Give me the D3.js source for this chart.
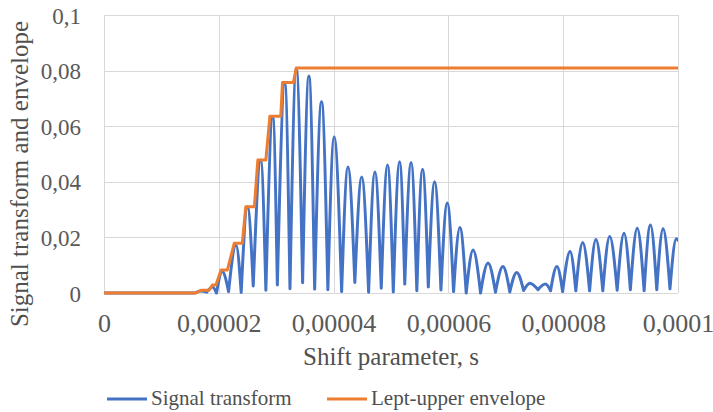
<!DOCTYPE html>
<html lang="en">
<head>
    <meta charset="utf-8">
    <title>Signal transform and envelope</title>
    <script src="https://cdn.jsdelivr.net/npm/d3@7"></script>
    <style>
        body {
            margin: 0;
            background-color: #ffffff;
        }
        svg {
            display: block;
            fill: #505050;
        }
        svg text {
            font-family: "Liberation Serif", "Times New Roman", Tinos, "DejaVu Serif", "Noto Serif", FreeSerif, serif;
        }
        .grid line {
            stroke: #d9d9d9;
            stroke-width: 1;
        }
        .axis text {
            fill: #595959;
        }
    </style>
</head>

<body>
    <svg id="chart" width="713" height="412"></svg>

    <script>
    // shift parameter kept in microseconds, the axis shows it in seconds
    var xTicks = [0, 20, 40, 60, 80, 100];
    var xTickLabels = ["0", "0,00002", "0,00004", "0,00006", "0,00008", "0,0001"];
    var yTicks = [0, 0.02, 0.04, 0.06, 0.08, 0.1];
    var yTickLabels = ["0", "0,02", "0,04", "0,06", "0,08", "0,1"];

    // signal transform: start, then trough / peak / trough ...
    var signalT = [0, 15.8, 16.9, 17.9, 18.9, 19.6, 20.6, 21.7, 23.0, 23.9, 25.0, 26.0,
        27.3, 28.2, 29.4, 30.2, 31.5, 32.4, 33.5, 34.6, 35.7, 36.7, 37.9, 39.0, 40.1,
        41.4, 42.5, 43.7, 44.9, 46.1, 47.2, 48.3, 49.4, 50.4, 51.5, 52.4, 53.5, 54.5,
        55.5, 56.5, 57.6, 58.7, 59.8, 60.9, 62.0, 63.1, 64.3, 65.6, 66.9, 68.2, 69.5,
        70.7, 71.9, 73.1, 74.2, 75.6, 76.9, 77.8, 78.9, 79.9, 81.2, 82.2, 83.4, 84.6,
        85.7, 86.9, 88.1, 89.4, 90.6, 91.7, 92.9, 94.1, 95.2, 96.3, 97.4, 98.6, 99.7, 100];
    var signalV = [0, 0, 0.0007, 0.0003, 0.0022, 0, 0.0077, 0.0005, 0.0173, 0.0002, 0.031, 0.0025,
        0.0478, 0.001, 0.0634, 0.0029, 0.0754, 0.0015, 0.0808, 0.0037, 0.0781, 0.0014, 0.0688, 0.0012, 0.0562,
        0.0005, 0.0453, 0.0038, 0.0417, 0.0003, 0.0435, 0.0017, 0.046, 0.0004, 0.0472, 0.0032, 0.0469, 0.0008,
        0.0445, 0.0022, 0.04, 0.0011, 0.0324, 0.0005, 0.0236, 0, 0.0155, 0, 0.0108, 0.0003, 0.0095,
        0.0004, 0.0074, 0.0009, 0.0035, 0.0012, 0.0032, 0.0008, 0.0095, 0.0005, 0.0149, 0.0008, 0.0182, 0.0008,
        0.0192, 0.0008, 0.0203, 0.001, 0.0215, 0.0012, 0.0233, 0.0008, 0.0245, 0.0012, 0.0231, 0.0015, 0.0195, 0.019];

    // lept-upper envelope corners
    var envT = [0, 16.0, 16.9, 18.3, 18.9, 19.5, 20.4, 21.5, 22.7, 24.1, 24.7, 26.2,
        26.8, 28.2, 28.9, 30.8, 31.1, 33.0, 33.5, 100];
    var envV = [0, 0, 0.001, 0.001, 0.0029, 0.0029, 0.0083, 0.0083, 0.0179, 0.0179, 0.031, 0.031,
        0.0478, 0.0478, 0.0636, 0.0636, 0.0757, 0.0757, 0.0809, 0.0809];

    var seriesNames = ["Signal transform", "Lept-upper envelope"];
    var seriesColors = ["#4472c4", "#ed7d31"];

    var margin = {top: 15, right: 35, bottom: 119, left: 104};
    var width = 713 - margin.left - margin.right;
    var height = 412 - margin.top - margin.bottom;

    var svg = d3.select("#chart");
    var g = svg.append("g")
        .attr("transform", "translate(" + margin.left + "," + margin.top + ")");

    var x = d3.scaleLinear().domain([0, 100]).range([0, width]);
    var y = d3.scaleLinear().domain([0, 0.1]).range([height, 0]);

    // gridlines
    var grid = g.append("g").attr("class", "grid");
    grid.selectAll("line.h").data(yTicks).enter().append("line")
        .attr("class", "h")
        .attr("x1", 0).attr("x2", width)
        .attr("y1", function(d) { return Math.round(y(d)) + 0.5; })
        .attr("y2", function(d) { return Math.round(y(d)) + 0.5; });
    grid.selectAll("line.v").data(xTicks).enter().append("line")
        .attr("class", "v")
        .attr("y1", 0).attr("y2", height)
        .attr("x1", function(d) { return Math.round(x(d)) + 0.5; })
        .attr("x2", function(d) { return Math.round(x(d)) + 0.5; });

    // axes (labels only)
    var xAxis = g.append("g").attr("class", "axis")
        .attr("transform", "translate(0," + height + ")")
        .call(d3.axisBottom(x).tickValues(xTicks)
            .tickFormat(function(d, i) { return xTickLabels[i]; })
            .tickSize(0));
    xAxis.attr("font-family", null);
    xAxis.select(".domain").remove();
    xAxis.selectAll("text")
        .attr("y", 39).attr("dy", 0)
        .style("font-size", "26px");

    var yAxis = g.append("g").attr("class", "axis")
        .call(d3.axisLeft(y).tickValues(yTicks)
            .tickFormat(function(d, i) { return yTickLabels[i]; })
            .tickSize(0));
    yAxis.attr("font-family", null);
    yAxis.select(".domain").remove();
    yAxis.selectAll("text")
        .attr("x", -23).attr("dy", "0.35em")
        .style("font-size", "23px");

    g.append("defs").append("clipPath").attr("id", "plotclip")
        .append("rect").attr("x", 0).attr("y", -5).attr("width", width).attr("height", height + 10);

    // signal: every lobe is its own trough-peak-trough curve so troughs stay sharp
    var lobe = d3.line()
        .x(function(d) { return x(d[0]); })
        .y(function(d) { return y(d[1]); })
        .curve(d3.curveMonotoneX);
    var straight = d3.line()
        .x(function(d) { return x(d[0]); })
        .y(function(d) { return y(d[1]); });

    var pts = signalT.map(function(t, i) { return [t, signalV[i]]; });
    var dStr = straight(pts.slice(0, 2));
    for (var i = 1; i + 2 < pts.length; i += 2) {
        dStr += lobe(pts.slice(i, i + 3));
    }

    g.append("path")
        .attr("clip-path", "url(#plotclip)")
        .attr("d", dStr)
        .style("fill", "none")
        .style("stroke", seriesColors[0])
        .style("stroke-width", 3)
        .style("stroke-linejoin", "round")
        .style("stroke-linecap", "round");

    var envPts = envT.map(function(t, i) { return [t, envV[i]]; });
    g.append("path")
        .attr("d", straight(envPts))
        .style("fill", "none")
        .style("stroke", seriesColors[1])
        .style("stroke-width", 3)
        .style("stroke-linejoin", "round");

    // axis titles
    svg.append("text")
        .attr("x", margin.left + width / 2)
        .attr("y", 365)
        .attr("text-anchor", "middle")
        .style("font-size", "25px")
        .text("Shift parameter, s");

    svg.append("text")
        .attr("transform", "translate(28,174) rotate(-90)")
        .attr("text-anchor", "middle")
        .style("font-size", "25px")
        .text("Signal transform and envelope");

    // legend
    var legendX = [107, 327];
    var legend = svg.selectAll("g.legend").data(seriesNames).enter().append("g")
        .attr("class", "legend")
        .attr("transform", function(d, i) { return "translate(" + legendX[i] + ",399)"; });
    legend.append("line")
        .attr("x1", 0).attr("x2", 40)
        .style("stroke", function(d, i) { return seriesColors[i]; })
        .style("stroke-width", 3);
    legend.append("text")
        .attr("x", 44).attr("y", 6)
        .style("font-size", "21px")
        .text(function(d) { return d; });
    </script>
</body>
</html>
